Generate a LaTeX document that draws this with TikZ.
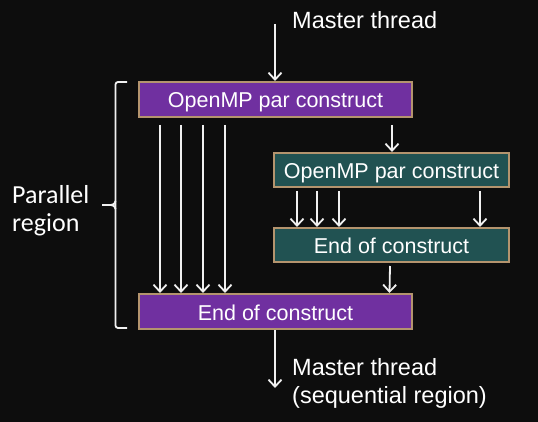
\documentclass[tikz,border=0pt]{standalone}
\usepackage{fontspec}
\setmainfont{Liberation Sans}
\newfontfamily\calib{Carlito}
\usetikzlibrary{arrows.meta}
\definecolor{bgc}{HTML}{0D0D0D}
\definecolor{ompurple}{HTML}{7030A0}
\definecolor{omteal}{HTML}{215252}
\definecolor{omtan}{HTML}{B4946E}
\definecolor{omline}{HTML}{F0F0F0}
\tikzset{
  boxp/.style={draw=omtan, line width=2pt, fill=ompurple, minimum width=273pt, minimum height=35pt, inner sep=0pt, text height=21.5pt, text depth=4.5pt, text=white, font=\fontsize{21.5}{24}\selectfont},
  boxt/.style={boxp, fill=omteal, minimum width=235pt, minimum height=34pt},
  arr/.style={draw=omline, line width=1.8pt, -{Straight Barb[length=7pt,width=13pt,line width=1.8pt]}},
  lbl/.style={text=white, inner sep=0pt, font=\fontsize{23.5}{28}\selectfont},
  brk/.style={draw=omline, line width=1.8pt, rounded corners=2.5pt}
}
\begin{document}
\begin{tikzpicture}[x=1pt,y=-1pt]
\fill[bgc] (0,0) rectangle (538,422);
\useasboundingbox (0,0) rectangle (538,422);
\node[boxp] (top) at (275.5,99.5) {OpenMP par construct};
\node[boxt] (t1) at (391.5,170) {OpenMP par construct};
\node[boxt] (t2) at (391.5,245) {End of construct};
\node[boxp] (bot) at (275.5,311.5) {End of construct};
\node[lbl, anchor=base west] (mt) at (292,29) {Master thread};
\node[lbl, anchor=base west] (mt2) at (292,375) {Master thread};
\node[lbl, anchor=base west] (seq) at (292,403) {(sequential region)};
\node[text=white, inner sep=0pt, anchor=base west, font=\calib\fontsize{26}{28}\selectfont] (pr1) at (12,203.3) {Parallel};
\node[text=white, inner sep=0pt, anchor=base west, font=\calib\fontsize{26}{28}\selectfont] (pr2) at (12,231.5) {region};
\coordinate (in) at (275,24);
\coordinate (out) at (275,388);
\draw[arr] (in) -- (in |- top.north);
\foreach \dx in {-115.5,-94.5,-72.5,-50.5}
  \draw[arr] ([xshift=\dx pt, yshift=-7pt]top.south) -- ([xshift=\dx pt]bot.north);
\draw[arr] ([xshift=116.5pt, yshift=-7pt]top.south) -- ([xshift=0.5pt]t1.north);
\foreach \dx in {-94.5,-74.5,-52.5,88.5}
  \draw[arr] ([xshift=\dx pt, yshift=-3pt]t1.south) -- ([xshift=\dx pt]t2.north);
\draw[arr] ([xshift=-1.5pt, yshift=-3pt]t2.south) -- ([xshift=114pt]bot.north);
\draw[arr] (bot.south -| out) -- (out);
\draw[brk] (127,82) -- (115.5,82) -- (115.5,328) -- (127,328);
\draw[draw=omline, line width=1.8pt] (102,205) -- (111,205) to[out=0,in=-90] (115.5,201);
\draw[draw=omline, line width=1.8pt] (111,205) to[out=0,in=90] (115.5,209);
\end{tikzpicture}
\end{document}
